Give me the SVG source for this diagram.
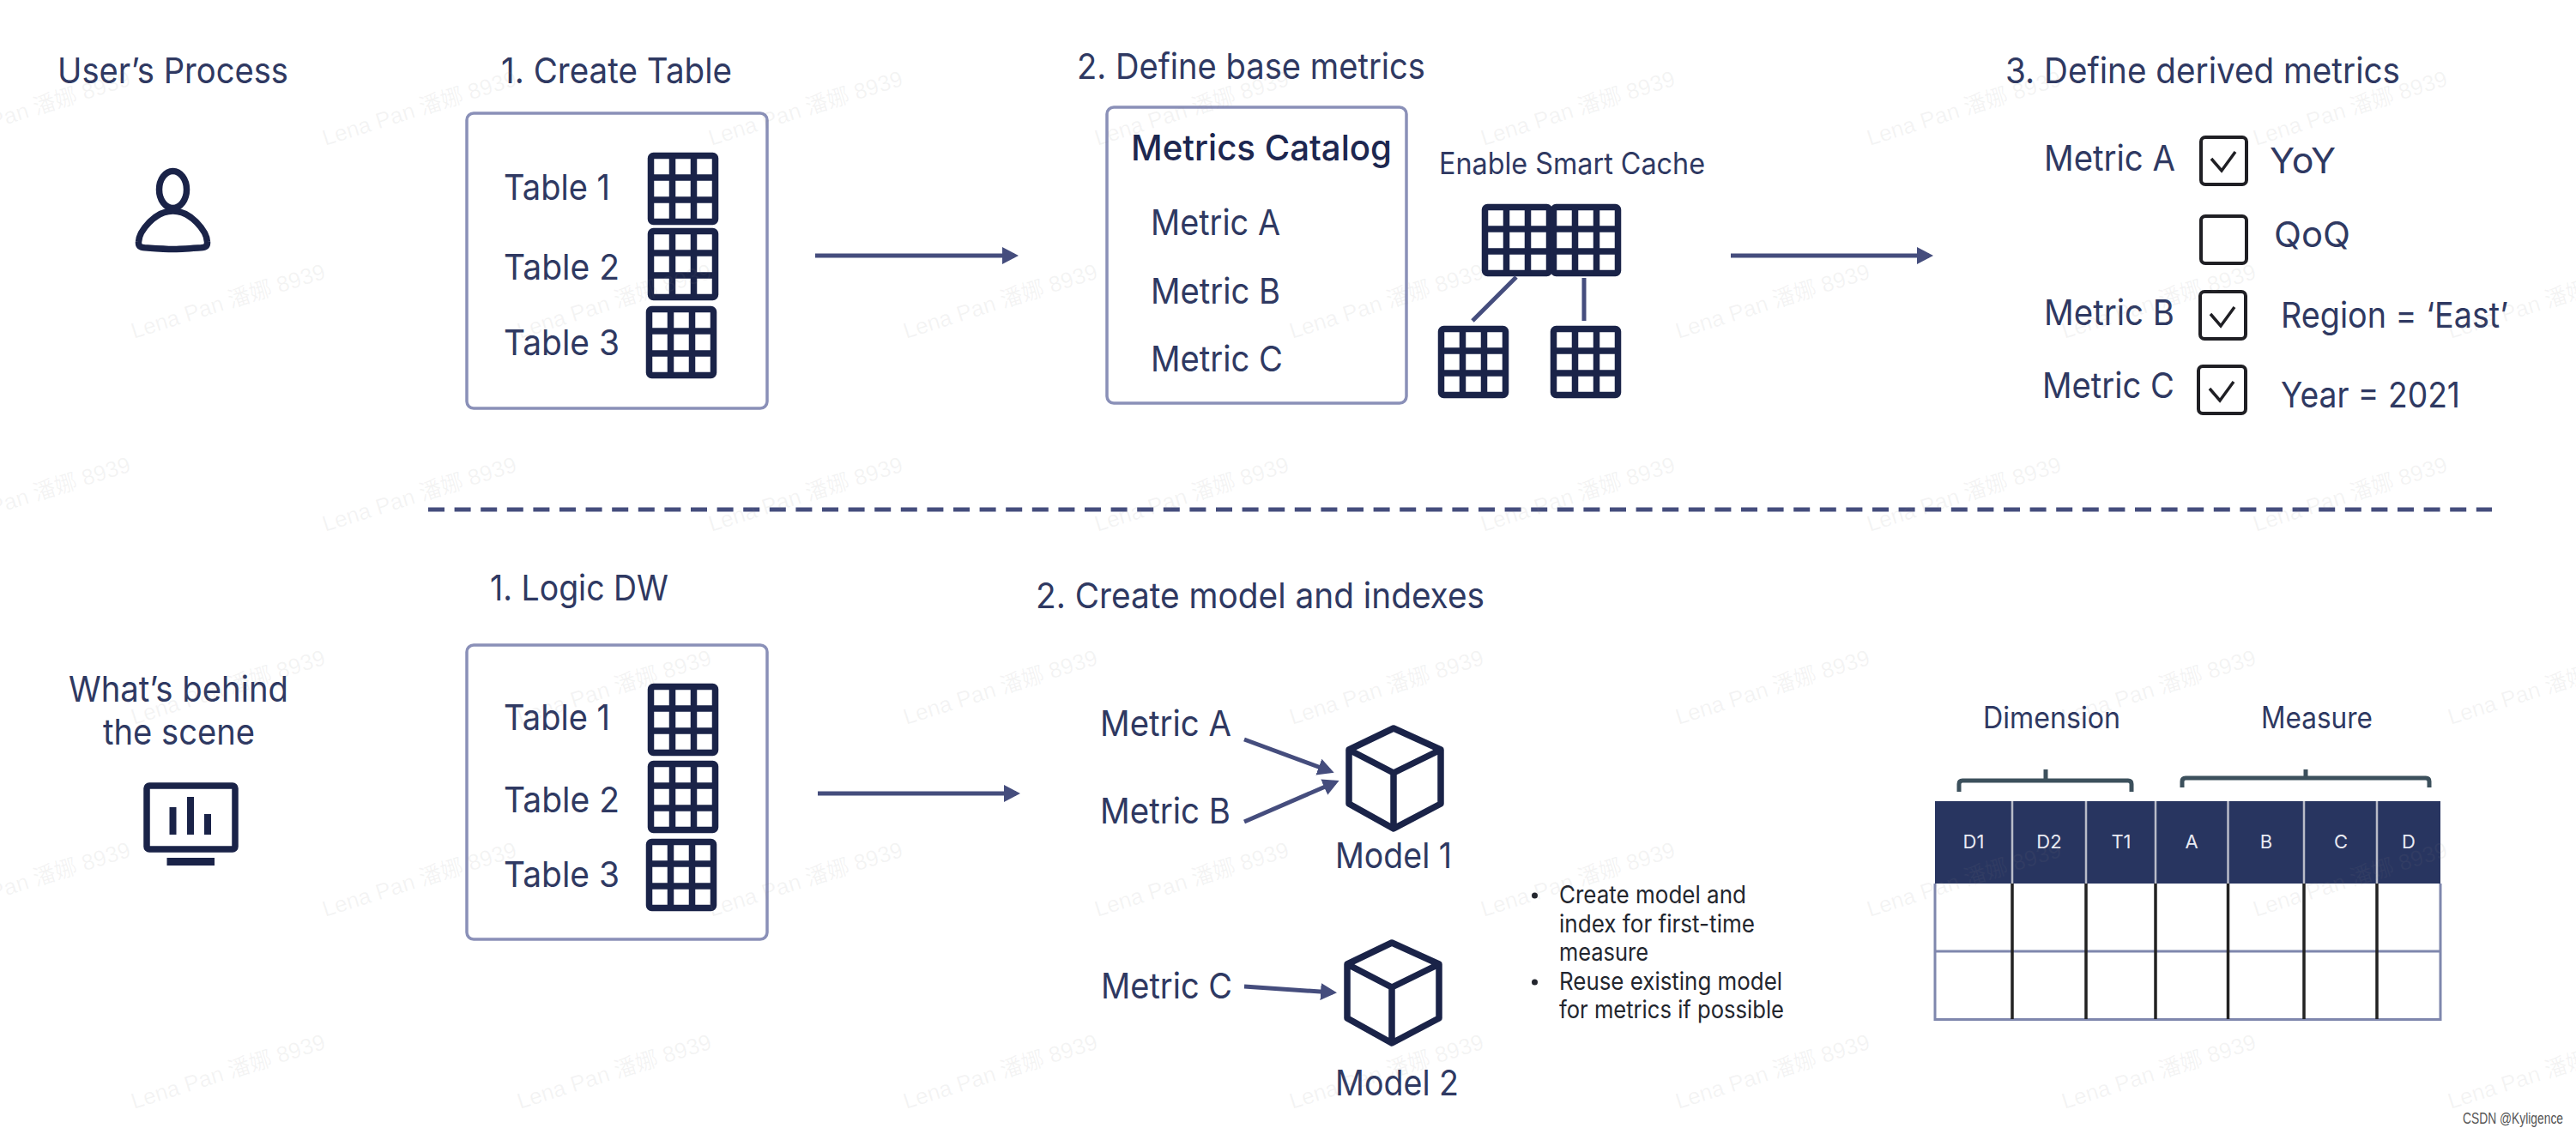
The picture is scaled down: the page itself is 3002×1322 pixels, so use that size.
<svg xmlns="http://www.w3.org/2000/svg" width="3002" height="1322" viewBox="0 0 3002 1322">
<style>
text{font-family:"Inter","Liberation Sans","Noto Sans CJK SC",sans-serif;fill:#2f3962;font-size:41px}
.box{fill:none;stroke:#8a90b8;stroke-width:3.5}
.ink{fill:none;stroke:#1a2348;stroke-width:7.500;stroke-linejoin:round}
.cb{fill:none;stroke:#1f1f24;stroke-width:4}
.ck{fill:none;stroke:#1f1f24;stroke-width:3.5}
.con{fill:none;stroke:#454d7d;stroke-width:5}
.sm{font-size:28px;fill:#23262e}
.hd{font-size:22px;fill:#e8eaf2;text-anchor:middle}
.brk{fill:none;stroke:#3c505c;stroke-width:5}
.wm{font-family:"Liberation Sans","Noto Sans CJK SC",sans-serif;font-size:26px;fill:#888;fill-opacity:.09}
</style>
<defs>
<g id="grid"><rect class="ink" x="3.5" y="3.5" width="75" height="77" rx="3"/><path class="ink" d="M28.5 3.5V80.500M53.500 3.500V80.500M3.500 29H78.500M3.500 55H78.500"/></g>
<g id="cube"><path class="ink" d="M52 2 107 27V90L52 119 0 90V27ZM0 27 52 54 107 27M52 54V119"/></g>
<path id="check" class="ck" d="M0 0 12 14 28 -8"/>
<marker id="arr" markerUnits="userSpaceOnUse" markerWidth="20" markerHeight="20" refX="14" refY="10" orient="auto"><path d="M0 0 19 10 0 20Z" fill="#454d7d"/></marker>
</defs>
<rect width="3002" height="1322" fill="#fff"/>

<g id="user-process">
<text x="67" y="97" textLength="269" lengthAdjust="spacingAndGlyphs">User’s Process</text>
<ellipse class="ink" cx="201.5" cy="221" rx="16" ry="21.5"/>
<path class="ink" d="M201.5 246C180 246 162 270 161.5 282 161 288 165 289 172 289 201 291 201 291 231 289 238 289 242 288 241.500 282 241 270 223 246 201.500 246Z"/>
</g>

<g id="create-table">
<text x="584" y="97" textLength="269" lengthAdjust="spacingAndGlyphs">1. Create Table</text>
<rect class="box" x="544" y="132" width="350" height="344" rx="8"/>
<text x="587" y="233" textLength="124" lengthAdjust="spacingAndGlyphs">Table 1</text>
<text x="587" y="326" textLength="135" lengthAdjust="spacingAndGlyphs">Table 2</text>
<text x="587" y="414" textLength="135" lengthAdjust="spacingAndGlyphs">Table 3</text>
<use href="#grid" x="755" y="178"/><use href="#grid" x="755" y="266"/><use href="#grid" x="753" y="357"/>
</g>

<g id="define-base-metrics">
<text x="1255" y="92" textLength="406" lengthAdjust="spacingAndGlyphs">2. Define base metrics</text>
<rect class="box" x="1290" y="125" width="349" height="345" rx="8"/>
<text x="1318" y="187" textLength="304" lengthAdjust="spacingAndGlyphs" font-weight="500" style="fill:#1d2750">Metrics Catalog</text>
<text x="1341" y="274" textLength="151" lengthAdjust="spacingAndGlyphs">Metric A</text>
<text x="1341" y="354" textLength="151" lengthAdjust="spacingAndGlyphs">Metric B</text>
<text x="1341" y="433" textLength="154" lengthAdjust="spacingAndGlyphs">Metric C</text>
</g>

<g id="smart-cache">
<text x="1677" y="203" textLength="310" lengthAdjust="spacingAndGlyphs" style="font-size:35px">Enable Smart Cache</text>
<use href="#grid" x="1727" y="238"/><use href="#grid" x="1807" y="238"/>
<use href="#grid" x="1676" y="380"/><use href="#grid" x="1807" y="380"/>
</g>

<g id="define-derived-metrics">
<text x="2337" y="97" textLength="460" lengthAdjust="spacingAndGlyphs">3. Define derived metrics</text>
<text x="2382" y="199" textLength="153" lengthAdjust="spacingAndGlyphs">Metric A</text>
<rect class="cb" x="2565" y="160" width="53" height="55" rx="5"/><use href="#check" x="2577" y="185"/>
<text x="2645" y="202" textLength="77" lengthAdjust="spacingAndGlyphs">YoY</text>
<rect class="cb" x="2565" y="252" width="53" height="55" rx="5"/>
<text x="2650" y="288" textLength="89" lengthAdjust="spacingAndGlyphs">QoQ</text>
<text x="2382" y="379" textLength="152" lengthAdjust="spacingAndGlyphs">Metric B</text>
<rect class="cb" x="2564" y="340" width="53" height="55" rx="5"/><use href="#check" x="2576" y="366"/>
<text x="2658" y="382" textLength="265" lengthAdjust="spacingAndGlyphs">Region = ‘East’</text>
<text x="2380" y="464" textLength="154" lengthAdjust="spacingAndGlyphs">Metric C</text>
<rect class="cb" x="2562" y="427" width="55" height="55" rx="5"/><use href="#check" x="2575" y="453"/>
<text x="2658" y="475" textLength="209" lengthAdjust="spacingAndGlyphs">Year = 2021</text>
</g>

<g id="behind-the-scene">
<text x="80" y="818" textLength="256" lengthAdjust="spacingAndGlyphs">What’s behind</text>
<text x="120" y="868" textLength="177" lengthAdjust="spacingAndGlyphs">the scene</text>
<rect class="ink" x="171" y="916" width="103" height="74" rx="3"/>
<path fill="#1a2348" d="M197.500 941h8v32h-8zM218 929h8v44h-8zM238 949h8v24h-8zM194.500 1000H250v9H194.500z"/>
</g>

<g id="logic-dw">
<text x="571" y="700" textLength="208" lengthAdjust="spacingAndGlyphs">1. Logic DW</text>
<rect class="box" x="544" y="752" width="350" height="343" rx="8"/>
<text x="587" y="851" textLength="124" lengthAdjust="spacingAndGlyphs">Table 1</text>
<text x="587" y="947" textLength="135" lengthAdjust="spacingAndGlyphs">Table 2</text>
<text x="587" y="1034" textLength="135" lengthAdjust="spacingAndGlyphs">Table 3</text>
<use href="#grid" x="755" y="797"/><use href="#grid" x="755" y="887"/><use href="#grid" x="753" y="978"/>
</g>

<g id="create-model">
<text x="1207" y="709" textLength="523" lengthAdjust="spacingAndGlyphs">2. Create model and indexes</text>
<text x="1282" y="858" textLength="153" lengthAdjust="spacingAndGlyphs">Metric A</text>
<text x="1282" y="960" textLength="152" lengthAdjust="spacingAndGlyphs">Metric B</text>
<text x="1283" y="1164" textLength="153" lengthAdjust="spacingAndGlyphs">Metric C</text>
</g>

<g id="model-1">
<use href="#cube" x="1572" y="847"/>
<text x="1556" y="1012" textLength="136" lengthAdjust="spacingAndGlyphs">Model 1</text>
</g>
<g id="model-2">
<use href="#cube" x="1570" y="1097"/>
<text x="1556" y="1277" textLength="144" lengthAdjust="spacingAndGlyphs">Model 2</text>
</g>

<g id="notes">
<circle cx="1788.500" cy="1044" r="3.500" fill="#23262e"/><circle cx="1788.500" cy="1145" r="3.500" fill="#23262e"/>
<text class="sm" x="1817" y="1053" textLength="218" lengthAdjust="spacingAndGlyphs">Create model and</text>
<text class="sm" x="1817" y="1087" textLength="228" lengthAdjust="spacingAndGlyphs">index for first-time</text>
<text class="sm" x="1817" y="1120" textLength="104" lengthAdjust="spacingAndGlyphs">measure</text>
<text class="sm" x="1817" y="1154" textLength="260" lengthAdjust="spacingAndGlyphs">Reuse existing model</text>
<text class="sm" x="1817" y="1187" textLength="262" lengthAdjust="spacingAndGlyphs">for metrics if possible</text>
</g>

<g id="dim-measure-table">
<text x="2311" y="849" textLength="160" lengthAdjust="spacingAndGlyphs" style="font-size:35px">Dimension</text>
<text x="2635" y="849" textLength="130" lengthAdjust="spacingAndGlyphs" style="font-size:35px">Measure</text>
<path class="brk" d="M2283 923V914Q2283 910 2287 910H2480Q2484 910 2484 914V923M2384 897V910"/>
<path class="brk" d="M2543 918V911Q2543 907 2547 907H2827Q2831 907 2831 911V918M2687 897V907"/>
<rect x="2255" y="934" width="589" height="96" fill="#283560"/>
<path fill="none" stroke="#b9bcc8" stroke-width="2.500" d="M2345 934V1030M2431 934V1030M2512 934V1030M2596.500 934V1030M2685 934V1030M2770 934V1030"/>
<path fill="none" stroke="#7f87ad" stroke-width="3" d="M2255 1030V1188.500H2844V1030M2255 1109H2844"/>
<path fill="none" stroke="#222" stroke-width="3.500" d="M2345 1030V1188M2431 1030V1188M2512 1030V1188M2596.500 1030V1188M2685 1030V1188M2770 1030V1188"/>
<text class="hd" x="2300" y="989">D1</text><text class="hd" x="2388" y="989">D2</text><text class="hd" x="2472" y="989">T1</text>
<text class="hd" x="2554" y="989">A</text><text class="hd" x="2641" y="989">B</text><text class="hd" x="2728" y="989">C</text><text class="hd" x="2807" y="989">D</text>
</g>

<g id="connectors">
<path class="con" d="M950 298H1182" marker-end="url(#arr)"/>
<path class="con" d="M2017 298H2248" marker-end="url(#arr)"/>
<path class="con" d="M953 925H1184" marker-end="url(#arr)"/>
<path class="con" d="M1450 862 1550 899" marker-end="url(#arr)"/>
<path class="con" d="M1450 958 1556 912" marker-end="url(#arr)"/>
<path class="con" d="M1450 1150 1553 1157" marker-end="url(#arr)"/>
<path class="con" d="M1767 323 1716 374"/>
<path class="con" d="M1846 324V374"/>
<path class="con" stroke-dasharray="19 11.600" d="M499 594H2904"/>
</g>

<g id="watermarks">
<text class="wm" transform="translate(-71 170) rotate(-17.500)">Lena Pan 潘娜 8939</text>
<text class="wm" transform="translate(379 170) rotate(-17.500)">Lena Pan 潘娜 8939</text>
<text class="wm" transform="translate(829 170) rotate(-17.500)">Lena Pan 潘娜 8939</text>
<text class="wm" transform="translate(1279 170) rotate(-17.500)">Lena Pan 潘娜 8939</text>
<text class="wm" transform="translate(1729 170) rotate(-17.500)">Lena Pan 潘娜 8939</text>
<text class="wm" transform="translate(2179 170) rotate(-17.500)">Lena Pan 潘娜 8939</text>
<text class="wm" transform="translate(2629 170) rotate(-17.500)">Lena Pan 潘娜 8939</text>
<text class="wm" transform="translate(156 395) rotate(-17.500)">Lena Pan 潘娜 8939</text>
<text class="wm" transform="translate(606 395) rotate(-17.500)">Lena Pan 潘娜 8939</text>
<text class="wm" transform="translate(1056 395) rotate(-17.500)">Lena Pan 潘娜 8939</text>
<text class="wm" transform="translate(1506 395) rotate(-17.500)">Lena Pan 潘娜 8939</text>
<text class="wm" transform="translate(1956 395) rotate(-17.500)">Lena Pan 潘娜 8939</text>
<text class="wm" transform="translate(2406 395) rotate(-17.500)">Lena Pan 潘娜 8939</text>
<text class="wm" transform="translate(2856 395) rotate(-17.500)">Lena Pan 潘娜 8939</text>
<text class="wm" transform="translate(-71 620) rotate(-17.500)">Lena Pan 潘娜 8939</text>
<text class="wm" transform="translate(379 620) rotate(-17.500)">Lena Pan 潘娜 8939</text>
<text class="wm" transform="translate(829 620) rotate(-17.500)">Lena Pan 潘娜 8939</text>
<text class="wm" transform="translate(1279 620) rotate(-17.500)">Lena Pan 潘娜 8939</text>
<text class="wm" transform="translate(1729 620) rotate(-17.500)">Lena Pan 潘娜 8939</text>
<text class="wm" transform="translate(2179 620) rotate(-17.500)">Lena Pan 潘娜 8939</text>
<text class="wm" transform="translate(2629 620) rotate(-17.500)">Lena Pan 潘娜 8939</text>
<text class="wm" transform="translate(156 845) rotate(-17.500)">Lena Pan 潘娜 8939</text>
<text class="wm" transform="translate(606 845) rotate(-17.500)">Lena Pan 潘娜 8939</text>
<text class="wm" transform="translate(1056 845) rotate(-17.500)">Lena Pan 潘娜 8939</text>
<text class="wm" transform="translate(1506 845) rotate(-17.500)">Lena Pan 潘娜 8939</text>
<text class="wm" transform="translate(1956 845) rotate(-17.500)">Lena Pan 潘娜 8939</text>
<text class="wm" transform="translate(2406 845) rotate(-17.500)">Lena Pan 潘娜 8939</text>
<text class="wm" transform="translate(2856 845) rotate(-17.500)">Lena Pan 潘娜 8939</text>
<text class="wm" transform="translate(-71 1069) rotate(-17.500)">Lena Pan 潘娜 8939</text>
<text class="wm" transform="translate(379 1069) rotate(-17.500)">Lena Pan 潘娜 8939</text>
<text class="wm" transform="translate(829 1069) rotate(-17.500)">Lena Pan 潘娜 8939</text>
<text class="wm" transform="translate(1279 1069) rotate(-17.500)">Lena Pan 潘娜 8939</text>
<text class="wm" transform="translate(1729 1069) rotate(-17.500)">Lena Pan 潘娜 8939</text>
<text class="wm" transform="translate(2179 1069) rotate(-17.500)">Lena Pan 潘娜 8939</text>
<text class="wm" transform="translate(2629 1069) rotate(-17.500)">Lena Pan 潘娜 8939</text>
<text class="wm" transform="translate(156 1293) rotate(-17.500)">Lena Pan 潘娜 8939</text>
<text class="wm" transform="translate(606 1293) rotate(-17.500)">Lena Pan 潘娜 8939</text>
<text class="wm" transform="translate(1056 1293) rotate(-17.500)">Lena Pan 潘娜 8939</text>
<text class="wm" transform="translate(1506 1293) rotate(-17.500)">Lena Pan 潘娜 8939</text>
<text class="wm" transform="translate(1956 1293) rotate(-17.500)">Lena Pan 潘娜 8939</text>
<text class="wm" transform="translate(2406 1293) rotate(-17.500)">Lena Pan 潘娜 8939</text>
<text class="wm" transform="translate(2856 1293) rotate(-17.500)">Lena Pan 潘娜 8939</text>
</g>
<text x="2870" y="1309.500" textLength="117" lengthAdjust="spacingAndGlyphs" style="font-family:'Liberation Sans',sans-serif;font-size:18px;fill:#555">CSDN @Kyligence</text>
</svg>
